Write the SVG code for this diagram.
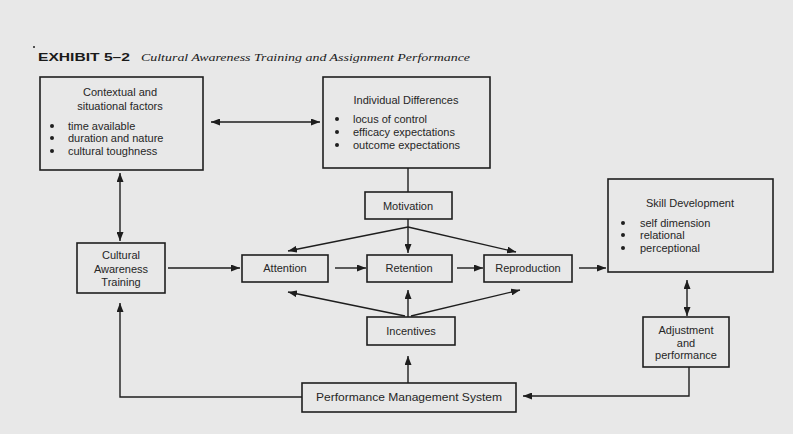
<svg xmlns="http://www.w3.org/2000/svg" width="793" height="434" viewBox="0 0 793 434">
  <style>
    .box { fill: #e8e8e8; stroke: #1e1e1e; stroke-width: 1.6; }
    .lbl { font-family: "Liberation Sans", Arial, sans-serif; font-size: 11px; fill: #262626; }
    .mid { text-anchor: middle; }
    .con { fill: none; stroke: #1e1e1e; stroke-width: 1.4; }
    .arr { marker-end: url(#head); }
    .both { marker-start: url(#head); marker-end: url(#head); }
    .dot { fill: #1e1e1e; }
  </style>
  <defs>
    <marker id="head" markerUnits="userSpaceOnUse" markerWidth="9" markerHeight="7" refX="9" refY="3.5" orient="auto-start-reverse">
      <path d="M0,0 L9,3.5 L0,7 z" fill="#1e1e1e"/>
    </marker>
  </defs>

  <rect x="0" y="0" width="793" height="434" fill="#e8e8e8"/>

  <!-- heading -->
  <g id="heading">
    <circle cx="34" cy="47" r="1" class="dot"/>
    <text x="38" y="61" font-family="'Liberation Sans', Arial, sans-serif" font-weight="bold" font-size="11" textLength="92" lengthAdjust="spacingAndGlyphs" fill="#1a1a1a">EXHIBIT 5–2</text>
    <text x="141" y="61" font-family="'Liberation Serif', 'Times New Roman', serif" font-style="italic" font-size="11" textLength="329" lengthAdjust="spacingAndGlyphs" fill="#1a1a1a">Cultural Awareness Training and Assignment Performance</text>
  </g>

  <!-- connectors -->
  <g id="connectors">
    <line class="con both" x1="211" y1="122" x2="320" y2="122"/>
    <line class="con both" x1="120" y1="173" x2="120" y2="241"/>
    <line class="con" x1="408" y1="168" x2="408" y2="192"/>
    <line class="con arr" x1="168" y1="268" x2="240" y2="268"/>
    <line class="con arr" x1="335" y1="268" x2="366" y2="268"/>
    <line class="con arr" x1="457" y1="268" x2="483" y2="268"/>
    <line class="con arr" x1="579" y1="268" x2="606" y2="268"/>
    <!-- motivation fan-out -->
    <line class="con arr" x1="408" y1="219" x2="408" y2="253"/>
    <line class="con arr" x1="408" y1="227" x2="288" y2="251"/>
    <line class="con arr" x1="408" y1="227" x2="516" y2="252"/>
    <!-- incentives fan-out -->
    <line class="con arr" x1="408" y1="317" x2="408" y2="290"/>
    <line class="con arr" x1="405" y1="316" x2="288" y2="292"/>
    <line class="con arr" x1="411" y1="316" x2="520" y2="290"/>
    <line class="con arr" x1="408" y1="383" x2="408" y2="356"/>
    <!-- feedback loops -->
    <polyline class="con arr" points="302,397 120,397 120,303"/>
    <polyline class="con arr" points="689,367 689,396 523,396"/>
    <line class="con both" x1="687" y1="280" x2="687" y2="316"/>
  </g>

  <g id="contextual">
    <rect class="box" x="40" y="77" width="163" height="93"/>
    <text class="lbl mid" x="120" y="96">Contextual and</text>
    <text class="lbl mid" x="120" y="110">situational factors</text>
    <circle class="dot" cx="52" cy="126" r="2"/>
    <circle class="dot" cx="52" cy="138" r="2"/>
    <circle class="dot" cx="52" cy="151" r="2"/>
    <text class="lbl" x="68" y="129.5">time available</text>
    <text class="lbl" x="68" y="141.5">duration and nature</text>
    <text class="lbl" x="68" y="154.5">cultural toughness</text>
  </g>

  <g id="individual">
    <rect class="box" x="323" y="77" width="167" height="91"/>
    <text class="lbl mid" x="406" y="104">Individual Differences</text>
    <circle class="dot" cx="337" cy="119" r="2"/>
    <circle class="dot" cx="337" cy="132" r="2"/>
    <circle class="dot" cx="337" cy="145" r="2"/>
    <text class="lbl" x="353" y="122.5">locus of control</text>
    <text class="lbl" x="353" y="135.5">efficacy expectations</text>
    <text class="lbl" x="353" y="148.5">outcome expectations</text>
  </g>

  <g id="motivation">
    <rect class="box" x="365" y="192" width="87" height="27"/>
    <text class="lbl mid" x="408" y="209.5">Motivation</text>
  </g>

  <g id="training">
    <rect class="box" x="77" y="243" width="88" height="50"/>
    <text class="lbl mid" x="121" y="259">Cultural</text>
    <text class="lbl mid" x="121" y="272.5">Awareness</text>
    <text class="lbl mid" x="121" y="286">Training</text>
  </g>

  <g id="attention">
    <rect class="box" x="242" y="255" width="86" height="27"/>
    <text class="lbl mid" x="285" y="272">Attention</text>
  </g>

  <g id="retention">
    <rect class="box" x="367" y="255" width="85" height="27"/>
    <text class="lbl mid" x="409" y="272">Retention</text>
  </g>

  <g id="reproduction">
    <rect class="box" x="484" y="255" width="88" height="27"/>
    <text class="lbl mid" x="528" y="272">Reproduction</text>
  </g>

  <g id="skill">
    <rect class="box" x="608" y="179" width="165" height="93"/>
    <text class="lbl mid" x="690" y="207">Skill Development</text>
    <circle class="dot" cx="623" cy="223" r="2"/>
    <circle class="dot" cx="623" cy="235" r="2"/>
    <circle class="dot" cx="623" cy="248" r="2"/>
    <text class="lbl" x="640" y="226.5">self dimension</text>
    <text class="lbl" x="640" y="238.5">relational</text>
    <text class="lbl" x="640" y="251.5">perceptional</text>
  </g>

  <g id="incentives">
    <rect class="box" x="367" y="317" width="88" height="28"/>
    <text class="lbl mid" x="411" y="334.5">Incentives</text>
  </g>

  <g id="adjustment">
    <rect class="box" x="643" y="317" width="86" height="50"/>
    <text class="lbl mid" x="686" y="334">Adjustment</text>
    <text class="lbl mid" x="686" y="346.5">and</text>
    <text class="lbl mid" x="686" y="359">performance</text>
  </g>

  <g id="pms">
    <rect class="box" x="302" y="383" width="214" height="29"/>
    <text class="lbl mid" x="409" y="401" textLength="186" lengthAdjust="spacingAndGlyphs">Performance Management System</text>
  </g>
</svg>
